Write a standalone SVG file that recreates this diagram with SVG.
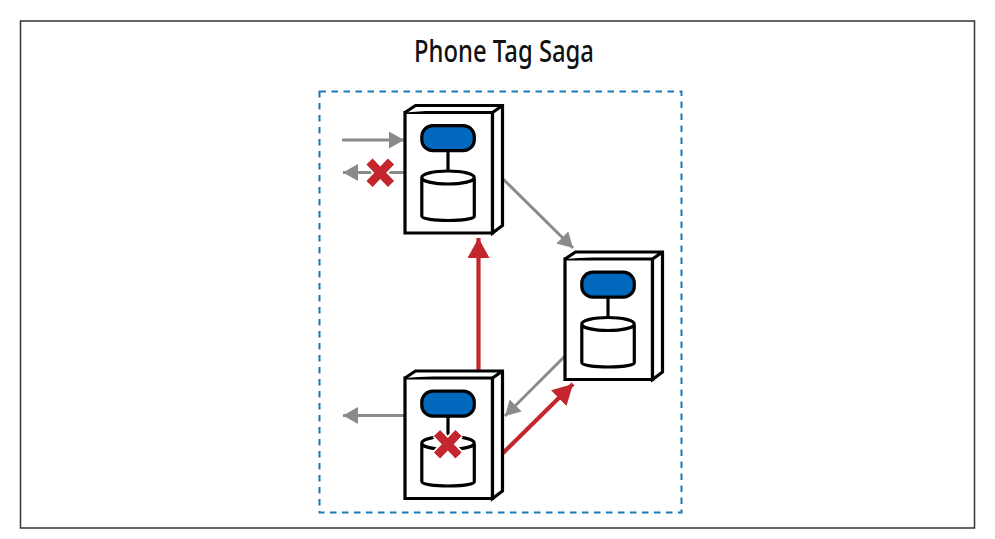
<svg xmlns="http://www.w3.org/2000/svg" width="995" height="539" viewBox="0 0 995 539">
<defs>
<style>
.b{fill:#fff;stroke:#000;stroke-width:3.200;stroke-linejoin:miter}
.l{fill:none;stroke:#000;stroke-width:3.200}
.s{fill:#0069bd;stroke:#000;stroke-width:3.200}
.g{fill:none;stroke:#8a8a8a;stroke-width:3}
.r{fill:none;stroke:#c4262e;stroke-width:4.200}
.x{fill:none;stroke:#c4262e;stroke-width:8.500}
.h{fill:none;stroke:#fff;stroke-width:12}
.t{font-family:"Noto Sans",sans-serif;font-weight:500;font-size:30px;text-anchor:middle;fill:#111}
</style>
<marker id="ag" markerUnits="userSpaceOnUse" markerWidth="18" markerHeight="18" refX="15" refY="8.500" orient="auto"><path d="M0 0L15 8.500L0 17Z" fill="#8a8a8a"/></marker>
<marker id="ar" markerUnits="userSpaceOnUse" markerWidth="24" markerHeight="24" refX="20" refY="11" orient="auto"><path d="M0 0L20 11L0 22Z" fill="#c4262e"/></marker>
<g id="srv"><path class="b" d="M0 0H87.500V120.500H0Z"/><path class="b" d="M0 0L10.500-7H97.500V113L87.500 120.500V0L97.500-7"/>
<rect class="s" x="16.800" y="13.200" width="52.500" height="25" rx="11"/><path class="l" d="M43 38V60"/>
<path class="b" d="M16.800 66C16.800 72 69.300 72 69.300 66V103.500C69.300 109.500 16.800 109.500 16.800 103.500Z"/><ellipse class="b" cx="43" cy="65" rx="26.200" ry="6.500"/></g>
</defs>
<rect x="20.500" y="21" width="954" height="507" fill="#fff" stroke="#333" stroke-width="1.500"/>
<text class="t" x="504" y="61.500" textLength="180" lengthAdjust="spacingAndGlyphs">Phone Tag Saga</text>
<rect x="319.500" y="91.500" width="362" height="421" fill="none" stroke="#1a7ab8" stroke-width="2" stroke-dasharray="6.500 5.500"/>
<g id="connectors">
<path class="g" marker-end="url(#ag)" d="M342 140H404"/>
<path class="g" marker-end="url(#ag)" d="M404 172.500H343"/>
<path class="g" marker-end="url(#ag)" d="M502 178L573 248"/>
<path class="g" marker-end="url(#ag)" d="M565 356L505 416"/>
<path class="g" marker-end="url(#ag)" d="M404 415.500H343"/>
<path class="r" marker-end="url(#ar)" d="M478.500 371V238"/>
<path class="r" marker-end="url(#ar)" d="M501 455L573 384"/>
</g>
<g id="node-1"><use href="#srv" x="405" y="112.500"/></g>
<g id="node-2"><use href="#srv" x="565" y="259"/></g>
<g id="node-3"><use href="#srv" x="405" y="378"/></g>
<g id="failures">
<path class="h" d="M369.500 161.500L391 184M391 161.500L369.500 184"/>
<path class="x" d="M369.500 161.500L391 184M391 161.500L369.500 184"/>
<path class="h" d="M437 433L458.500 455.500M458.500 433L437 455.500"/>
<path class="x" d="M437 433L458.500 455.500M458.500 433L437 455.500"/>
</g>
</svg>
